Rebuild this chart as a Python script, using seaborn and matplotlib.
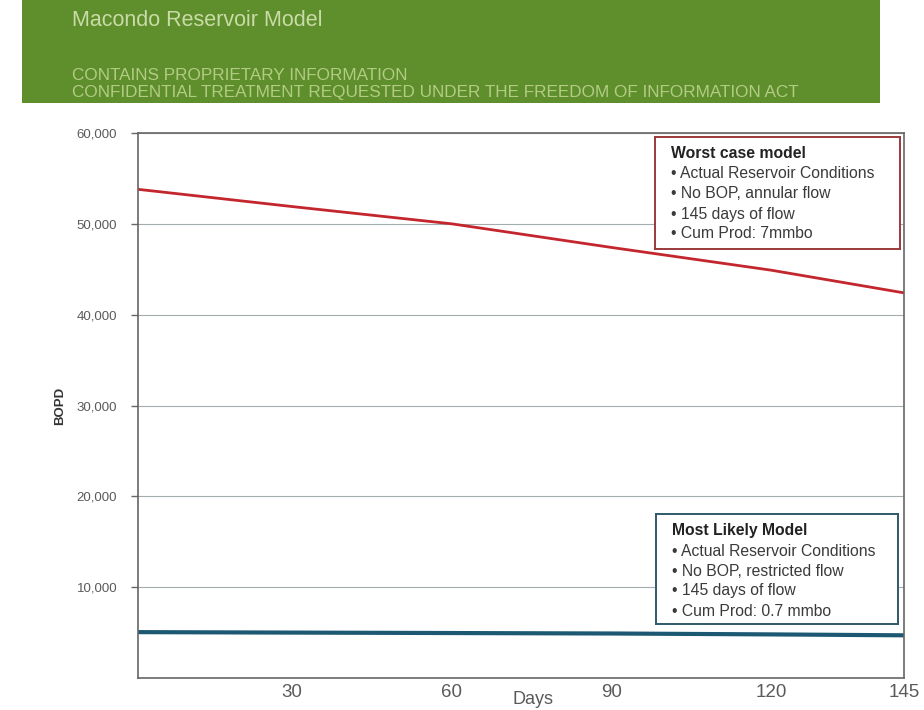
import matplotlib
matplotlib.use("Agg")
import matplotlib.pyplot as plt
from matplotlib.patches import Rectangle
import seaborn as sns
import pandas as pd

# Flow-rate forecasts (barrels of oil per day) by day of flow
worst_days = [1, 30, 60, 90, 120, 145]
worst_bopd = [53800, 51900, 50000, 47400, 44900, 42400]

likely_days = [1, 30, 60, 90, 120, 145]
likely_bopd = [5050, 5000, 4950, 4900, 4800, 4700]

x_ticks = [30, 60, 90, 120, 145]
y_ticks = [10000, 20000, 30000, 40000, 50000, 60000]

worst_title = "Worst case model"
worst_notes = ["Actual Reservoir Conditions", "No BOP, annular flow",
               "145 days of flow", "Cum Prod: 7mmbo"]
likely_title = "Most Likely Model"
likely_notes = ["Actual Reservoir Conditions", "No BOP, restricted flow",
                "145 days of flow", "Cum Prod: 0.7 mmbo"]

sns.set_theme(style="white")
plt.rcParams["font.family"] = ["Liberation Sans", "DejaVu Sans"]

worst = pd.DataFrame({"Days": worst_days, "BOPD": worst_bopd})
likely = pd.DataFrame({"Days": likely_days, "BOPD": likely_bopd})

W, H = 924, 710
fig = plt.figure(figsize=(W / 100, H / 100), dpi=100)
fig.patch.set_facecolor("white")

# green header band
fig.patches.append(Rectangle((22 / W, 1 - 103 / H), (880 - 22) / W, 103 / H,
                             transform=fig.transFigure, facecolor="#5f8f2c",
                             edgecolor="none", zorder=0))
fig.text(72 / W, 1 - 20 / H, "Macondo Reservoir Model", color="#c9dba6",
         fontsize=15.5, va="center", ha="left")
fig.text(72 / W, 1 - 76 / H, "CONTAINS PROPRIETARY INFORMATION", color="#b3cc84",
         fontsize=12.3, va="center", ha="left")
fig.text(72 / W, 1 - 93 / H,
         "CONFIDENTIAL TREATMENT REQUESTED UNDER THE FREEDOM OF INFORMATION ACT",
         color="#b3cc84", fontsize=12.3, va="center", ha="left")

ax = fig.add_axes([138 / W, 32 / H, (904 - 138) / W, (678 - 133) / H])

sns.lineplot(data=worst, x="Days", y="BOPD", ax=ax, color="#c4262e", linewidth=2.0)
sns.lineplot(data=likely, x="Days", y="BOPD", ax=ax, color="#1d5873", linewidth=3.0)

ax.set_xlim(1, 145)
ax.set_ylim(0, 60000)
ax.set_xticks(x_ticks)
ax.set_xticklabels([str(t) for t in x_ticks], fontsize=13.5, color="#5a5a5a")
ax.set_yticks(y_ticks)
ax.set_yticklabels([f"{t:,}" for t in y_ticks], fontsize=9.5, color="#5a5a5a")
ax.tick_params(axis="x", length=0, pad=4)
ax.tick_params(axis="y", length=5, width=1, color="#666666", left=True, pad=10)
ax.yaxis.grid(True, color="#a3adb0", linewidth=0.8)
ax.set_axisbelow(True)
for s in ax.spines.values():
    s.set_color("#666666")
    s.set_linewidth(1.2)

ax.set_xlabel("Days", fontsize=13, color="#5a5a5a", va="center")
ax.xaxis.set_label_coords((533 - 138) / (904 - 138), -(700 - 678) / (678 - 133))
ax.set_ylabel("BOPD", fontsize=9.5, fontweight="bold", color="#333333", va="center")
ax.yaxis.set_label_coords((60 - 138) / (904 - 138), 0.5)


def note_box(x0, y0, x1, y1, edge, title, notes):
    bx = fig.add_axes([x0 / W, 1 - y1 / H, (x1 - x0) / W, (y1 - y0) / H])
    bx.set_xticks([])
    bx.set_yticks([])
    bx.set_facecolor("white")
    for s in bx.spines.values():
        s.set_color(edge)
        s.set_linewidth(1.4)
    h = y1 - y0
    bx.text(16 / (x1 - x0), 1 - 16 / h, title, fontsize=11.3, fontweight="bold",
            color="#222222", va="center", ha="left", transform=bx.transAxes)
    for i, n in enumerate(notes):
        bx.text(16 / (x1 - x0), 1 - (37 + 20 * i) / h, "\u2022 " + n, fontsize=11.3,
                color="#3a3a3a", va="center", ha="left", transform=bx.transAxes)


note_box(655, 137, 900, 249, "#9b3a3a", worst_title, worst_notes)
note_box(656, 514, 898, 624, "#2f5a6a", likely_title, likely_notes)

fig.savefig("out.png", dpi=100)
